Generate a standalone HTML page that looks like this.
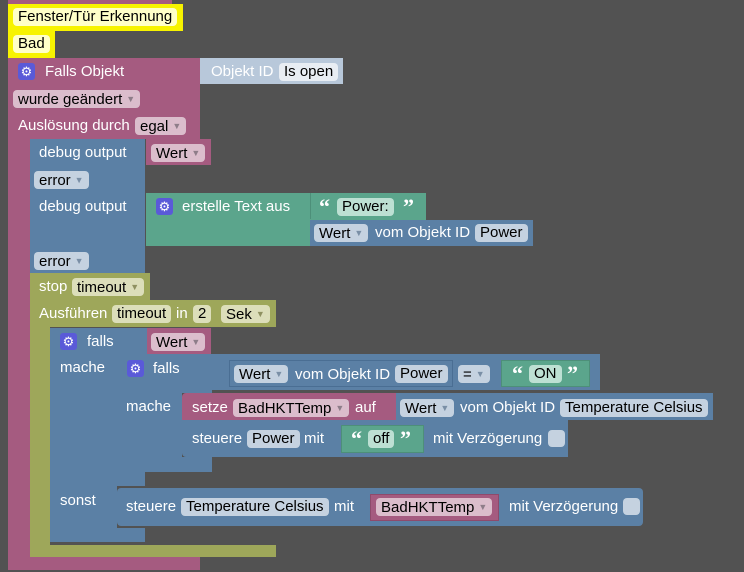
<!DOCTYPE html>
<html><head><meta charset="utf-8"><style>
body{margin:0;width:744px;height:572px;background:#525252;overflow:hidden;font-family:"Liberation Sans",sans-serif;font-size:15px;position:relative}
.b{position:absolute}
.p{background:#a55b80}.u{background:#5b80a5}.g{background:#5ba58c}.o{background:#9ea75a}.y{background:#f7f300}.lb{background:#b8c8da}
.t{position:absolute;color:#fff;white-space:nowrap;line-height:18px}
.f{position:absolute;height:18px;line-height:18px;border-radius:4px;padding:0 5px;color:#000;white-space:nowrap;box-sizing:border-box}
.fp{background:#dbbdcc}.fu{background:#c5d2e0}.fg{background:#bde0d3}.fo{background:#dcdeba}.fy{background:#ffffc8}
.ar{font-size:9px;color:#8e7d89;margin-left:4px;vertical-align:2px}
.aru{color:#7a8fa6}.aro{color:#8f9161}
.gear{position:absolute;width:17px;height:17px;background:#5a5ad8;border-radius:3px;color:#fff;font-size:13px;line-height:17px;text-align:center}
.ck{position:absolute;width:17px;height:17px;background:#c5d2e0;border-radius:4px}
.q{position:absolute;color:#fff;font-size:22px;font-weight:bold;line-height:22px;font-family:"Liberation Serif",serif}
</style></head><body>
<div class="b p" style="left:8px;top:0;width:164px;height:5px"></div>
<div class="b y" style="left:8px;top:4px;width:175px;height:27px"></div>
<div class="f fy" style="left:13px;top:8px;width:164px">Fenster/Tür Erkennung</div>
<div class="b y" style="left:8px;top:31px;width:47px;height:27px"></div>
<div class="f fy" style="left:13px;top:35px">Bad</div>

<div class="b p" style="left:8px;top:58px;width:192px;height:81px"></div>
<div class="b p" style="left:8px;top:58px;width:22px;height:512px"></div>
<div class="b p" style="left:8px;top:557px;width:192px;height:13px"></div>
<div class="gear" style="left:18px;top:63px">⚙</div>
<div class="t" style="left:45px;top:63px">Falls Objekt</div>
<div class="b lb" style="left:200px;top:58px;width:143px;height:26px"></div>
<div class="t" style="left:211px;top:63px">Objekt ID</div>
<div class="f" style="left:279px;top:63px;background:#e8edf3">Is open</div>
<div class="f fp" style="left:13px;top:90px">wurde geändert<span class="ar">▼</span></div>
<div class="t" style="left:18px;top:117px">Auslösung durch</div>
<div class="f fp" style="left:135px;top:117px">egal<span class="ar">▼</span></div>

<div class="b u" style="left:30px;top:139px;width:115px;height:54px"></div>
<div class="t" style="left:39px;top:144px">debug output</div>
<div class="b p" style="left:146px;top:139px;width:65px;height:26px"></div>
<div class="f fp" style="left:151px;top:144px">Wert<span class="ar">▼</span></div>
<div class="f fu" style="left:34px;top:171px">error<span class="ar aru">▼</span></div>

<div class="b u" style="left:30px;top:193px;width:115px;height:80px"></div>
<div class="t" style="left:39px;top:198px">debug output</div>
<div class="b g" style="left:146px;top:193px;width:280px;height:53px"></div>
<div class="gear" style="left:156px;top:198px">⚙</div>
<div class="t" style="left:182px;top:198px">erstelle Text aus</div>
<div class="b g" style="left:310px;top:193px;width:115px;height:26px;border-left:1px solid #4d8f79"></div>
<div class="q" style="left:319px;top:196px">“</div>
<div class="f fg" style="left:337px;top:198px">Power:</div>
<div class="q" style="left:403px;top:196px">”</div>
<div class="b u" style="left:310px;top:220px;width:223px;height:26px"></div>
<div class="f fu" style="left:314px;top:224px">Wert<span class="ar aru">▼</span></div>
<div class="t" style="left:375px;top:224px">vom Objekt ID</div>
<div class="f fu" style="left:475px;top:224px">Power</div>
<div class="f fu" style="left:34px;top:252px">error<span class="ar aru">▼</span></div>

<div class="b o" style="left:30px;top:273px;width:120px;height:27px"></div>
<div class="t" style="left:39px;top:278px">stop</div>
<div class="f fo" style="left:72px;top:278px">timeout<span class="ar aro">▼</span></div>

<div class="b o" style="left:30px;top:300px;width:246px;height:27px"></div>
<div class="b o" style="left:30px;top:300px;width:20px;height:257px"></div>
<div class="b o" style="left:30px;top:545px;width:246px;height:12px"></div>
<div class="t" style="left:39px;top:305px">Ausführen</div>
<div class="f fo" style="left:112px;top:305px">timeout</div>
<div class="t" style="left:176px;top:305px">in</div>
<div class="f fo" style="left:193px;top:305px">2</div>
<div class="f fo" style="left:221px;top:305px">Sek<span class="ar aro">▼</span></div>

<div class="b u" style="left:50px;top:328px;width:97px;height:27px"></div>
<div class="b u" style="left:50px;top:328px;width:67px;height:214px"></div>
<div class="b u" style="left:50px;top:472px;width:95px;height:14px"></div>
<div class="b u" style="left:50px;top:528px;width:95px;height:14px"></div>
<div class="gear" style="left:60px;top:333px">⚙</div>
<div class="t" style="left:87px;top:333px">falls</div>
<div class="b p" style="left:147px;top:328px;width:64px;height:27px"></div>
<div class="f fp" style="left:151px;top:333px">Wert<span class="ar">▼</span></div>
<div class="t" style="left:60px;top:359px">mache</div>
<div class="t" style="left:60px;top:492px">sonst</div>

<div class="b u" style="left:117px;top:354px;width:95px;height:39px"></div>
<div class="b u" style="left:117px;top:354px;width:65px;height:104px"></div>
<div class="b u" style="left:117px;top:457px;width:95px;height:15px"></div>
<div class="gear" style="left:127px;top:360px">⚙</div>
<div class="t" style="left:153px;top:360px">falls</div>
<div class="t" style="left:126px;top:398px">mache</div>
<div class="b u" style="left:212px;top:354px;width:388px;height:36px"></div>
<div class="b u" style="left:229px;top:360px;width:224px;height:27px;border:1px solid #4a6e93;box-sizing:border-box"></div>
<div class="f fu" style="left:234px;top:365px">Wert<span class="ar aru">▼</span></div>
<div class="t" style="left:295px;top:366px">vom Objekt ID</div>
<div class="f fu" style="left:395px;top:365px">Power</div>
<div class="f fu" style="left:458px;top:365px">=<span class="ar aru">▼</span></div>
<div class="b g" style="left:501px;top:360px;width:89px;height:27px;border:1px solid #4d8f79;box-sizing:border-box"></div>
<div class="q" style="left:512px;top:363px">“</div>
<div class="f fg" style="left:529px;top:365px">ON</div>
<div class="q" style="left:567px;top:363px">”</div>

<div class="b p" style="left:182px;top:393px;width:215px;height:27px;border-radius:4px 0 0 0"></div>
<div class="t" style="left:192px;top:399px">setze</div>
<div class="f fp" style="left:233px;top:399px">BadHKTTemp<span class="ar">▼</span></div>
<div class="t" style="left:355px;top:399px">auf</div>
<div class="b u" style="left:396px;top:393px;width:317px;height:27px"></div>
<div class="f fu" style="left:400px;top:399px">Wert<span class="ar aru">▼</span></div>
<div class="t" style="left:460px;top:399px">vom Objekt ID</div>
<div class="f fu" style="left:560px;top:399px">Temperature Celsius</div>

<div class="b u" style="left:182px;top:420px;width:386px;height:37px;border-radius:0 0 0 4px"></div>
<div class="t" style="left:192px;top:430px">steuere</div>
<div class="f fu" style="left:247px;top:430px">Power</div>
<div class="t" style="left:304px;top:430px">mit</div>
<div class="b g" style="left:341px;top:425px;width:83px;height:28px;border:1px solid #4d8f79;box-sizing:border-box"></div>
<div class="q" style="left:351px;top:428px">“</div>
<div class="f fg" style="left:368px;top:430px">off</div>
<div class="q" style="left:400px;top:428px">”</div>
<div class="t" style="left:433px;top:430px">mit Verzögerung</div>
<div class="ck" style="left:548px;top:430px"></div>

<div class="b u" style="left:117px;top:488px;width:526px;height:38px;border-radius:4px"></div>
<div class="t" style="left:126px;top:498px">steuere</div>
<div class="f fu" style="left:181px;top:498px">Temperature Celsius</div>
<div class="t" style="left:334px;top:498px">mit</div>
<div class="b p" style="left:370px;top:494px;width:129px;height:27px;border:1px solid #8e4a6c;box-sizing:border-box"></div>
<div class="f fp" style="left:376px;top:498px">BadHKTTemp<span class="ar">▼</span></div>
<div class="t" style="left:509px;top:498px">mit Verzögerung</div>
<div class="ck" style="left:623px;top:498px"></div>
</body></html>
